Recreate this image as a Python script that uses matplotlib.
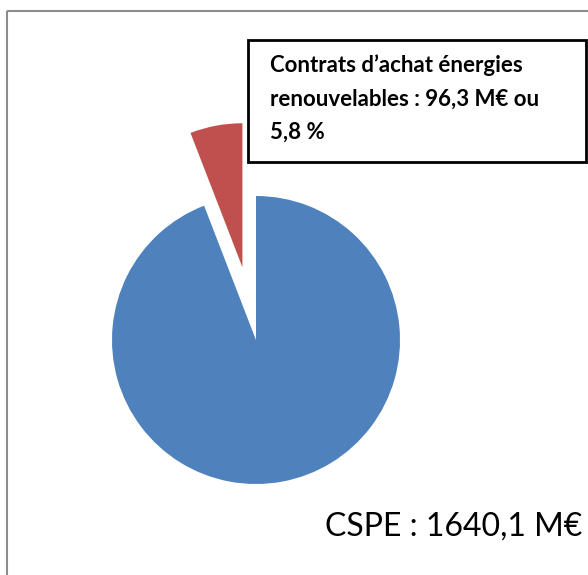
import matplotlib
matplotlib.use('Agg')
import matplotlib.pyplot as plt
from matplotlib.patches import Rectangle

# data
labels = ['Contrats d’achat énergies renouvelables', 'Reste CSPE']
values = [96.3, 1640.1 - 96.3]
colors = ['#C0504D', '#4F81BD']
explode = [74, 0]   # pie offsets are in data units (pixels here)

box_lines = ['Contrats d’achat énergies', 'renouvelables : 96,3 M€ ou', '5,8 %']
total_text = 'CSPE : 1640,1 M€'

W, H = 588, 575
fig = plt.figure(figsize=(W / 100, H / 100), dpi=100)
ax = fig.add_axes([0, 0, 1, 1])

# pie in pixel coordinates (y up)
ax.pie(values, colors=colors, explode=explode, startangle=90,
       counterclock=True, center=(256, H - 340), radius=144,
       wedgeprops=dict(linewidth=0))

ax.set_xlim(0, W)
ax.set_ylim(0, H)
ax.set_aspect('equal')
ax.axis('off')

# chart area border (top and left only)
ax.plot([7, W], [H - 11, H - 11], color='#8c8c8c', lw=1.5, solid_capstyle='butt')
ax.plot([7, 7], [0, H - 11], color='#8c8c8c', lw=1.5, solid_capstyle='butt')

# annotation box
ax.add_patch(Rectangle((248, H - 162), 338, 122, fill=False,
                       edgecolor='black', lw=2))
for i, line in enumerate(box_lines):
    ax.text(270, H - (72 + 33.5 * i), line, ha='left', va='baseline',
            fontsize=16, fontweight='bold', family='Lato')

ax.text(582, H - 536, total_text, ha='right', va='baseline', fontsize=23,
        family='Lato')

fig.savefig('out.png', dpi=100)
